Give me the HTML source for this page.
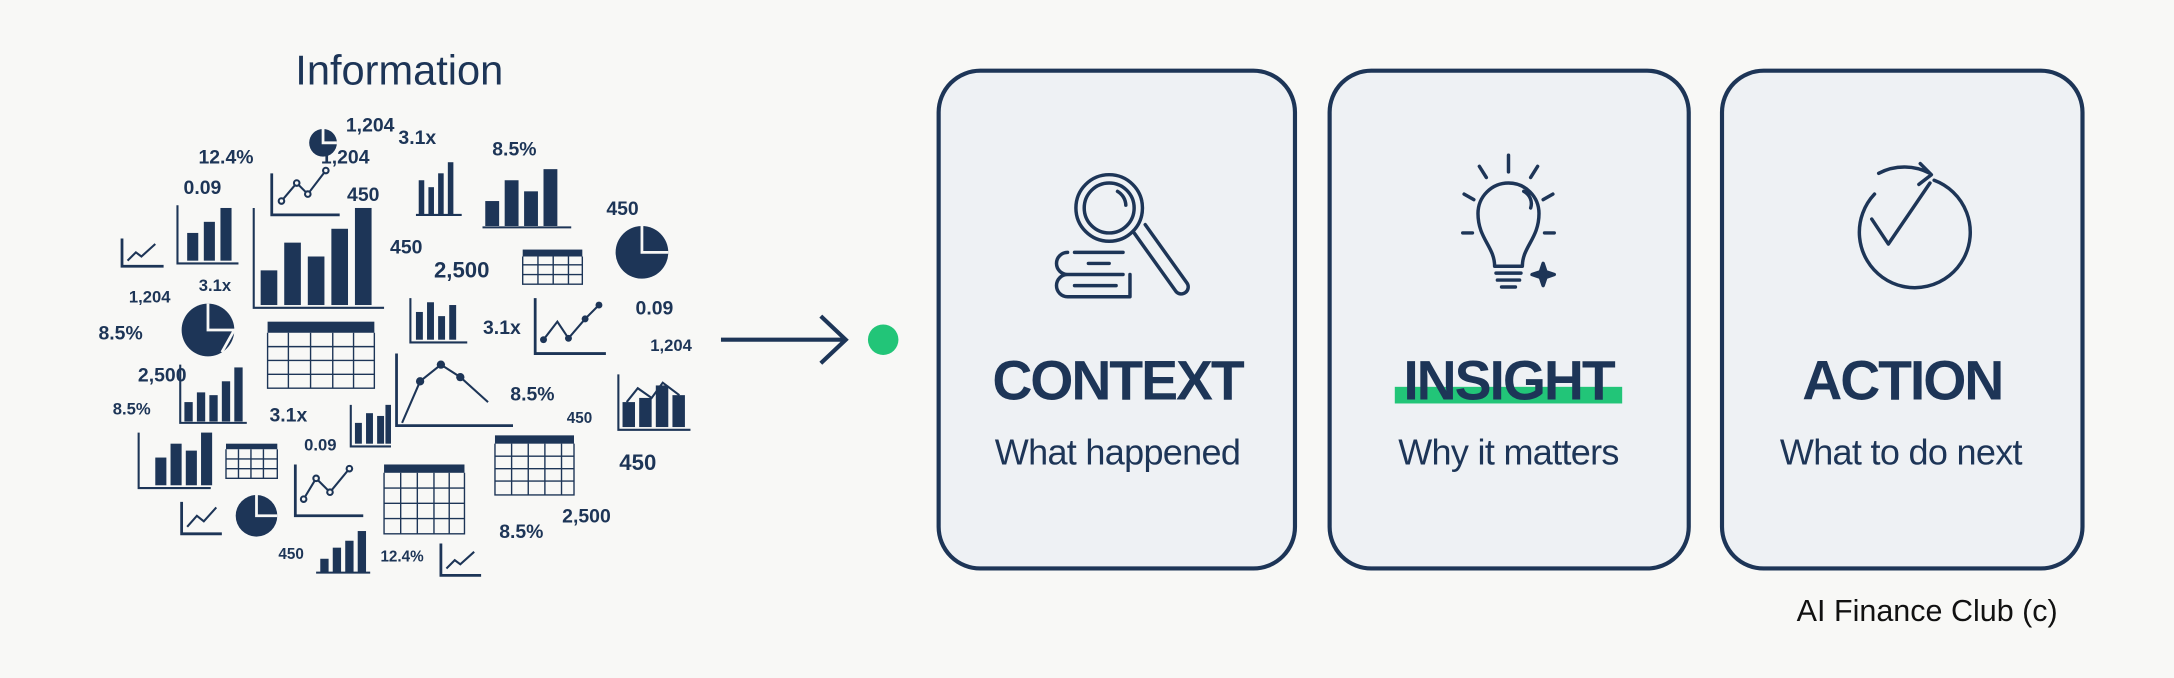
<!DOCTYPE html>
<html><head><meta charset="utf-8"><style>
html,body{margin:0;padding:0;background:#f8f8f6;}
svg{display:block}
</style></head><body>
<svg width="2174" height="678" viewBox="0 0 1568 489" preserveAspectRatio="none" xmlns="http://www.w3.org/2000/svg">
<rect x="0" y="0" width="1568" height="489" fill="#f8f8f6"/>
<g font-family="Liberation Sans, sans-serif" fill="#1d3557">
<text x="288" y="61" font-size="30" text-anchor="middle">Information</text>
<g font-size="14" font-weight="bold" text-anchor="middle">
<text x="163" y="118">12.4%</text><text x="267" y="95">1,204</text><text x="249" y="118">1,204</text>
<text x="301" y="104">3.1x</text><text x="371" y="112">8.5%</text><text x="146" y="140">0.09</text>
<text x="262" y="145">450</text><text x="449" y="155">450</text><text x="293" y="183">450</text>
<text x="333" y="200" font-size="16">2,500</text><text x="108" y="218" font-size="12">1,204</text>
<text x="155" y="210" font-size="12">3.1x</text><text x="87" y="245">8.5%</text><text x="362" y="241">3.1x</text>
<text x="472" y="227">0.09</text><text x="484" y="253" font-size="12">1,204</text><text x="117" y="275">2,500</text>
<text x="95" y="299" font-size="12">8.5%</text><text x="208" y="304">3.1x</text><text x="384" y="289">8.5%</text>
<text x="418" y="305" font-size="11">450</text><text x="231" y="325" font-size="12">0.09</text>
<text x="460" y="339" font-size="16">450</text><text x="376" y="388">8.5%</text><text x="423" y="377">2,500</text>
<text x="210" y="403" font-size="11">450</text><text x="290" y="405" font-size="11">12.4%</text>
</g>
</g>
<g fill="#1d3557" stroke="none">
<circle cx="233" cy="103" r="10"/><circle cx="463" cy="182" r="19"/><circle cx="150" cy="238" r="19"/><circle cx="185" cy="372" r="15"/>
<rect x="302" y="130" width="4" height="25"/><rect x="309" y="135" width="4" height="20"/><rect x="316" y="125" width="4" height="30"/><rect x="323" y="117" width="4" height="38"/>
<rect x="350" y="145" width="10" height="18"/><rect x="364" y="130" width="10" height="33"/><rect x="378" y="138" width="10" height="25"/><rect x="392" y="122" width="10" height="41"/>
<rect x="135" y="168" width="8" height="20"/><rect x="147" y="160" width="8" height="28"/><rect x="159" y="150" width="8" height="38"/>
<rect x="188" y="195" width="12" height="25"/><rect x="205" y="175" width="12" height="45"/><rect x="222" y="185" width="12" height="35"/><rect x="239" y="165" width="12" height="55"/><rect x="256" y="150" width="12" height="70"/>
<rect x="300" y="225" width="5" height="20"/><rect x="308" y="218" width="5" height="27"/><rect x="316" y="228" width="5" height="17"/><rect x="324" y="220" width="5" height="25"/>
<rect x="133" y="290" width="6" height="14"/><rect x="142" y="283" width="6" height="21"/><rect x="151" y="285" width="6" height="19"/><rect x="160" y="275" width="6" height="29"/><rect x="169" y="265" width="6" height="39"/>
<rect x="256" y="305" width="5" height="15"/><rect x="264" y="298" width="5" height="22"/><rect x="272" y="300" width="5" height="20"/><rect x="278" y="292" width="4" height="28"/>
<rect x="449" y="290" width="9" height="18"/><rect x="461" y="287" width="9" height="21"/><rect x="473" y="278" width="9" height="30"/><rect x="485" y="285" width="9" height="23"/>
<rect x="112" y="330" width="8" height="20"/><rect x="123" y="320" width="8" height="30"/><rect x="134" y="325" width="8" height="25"/><rect x="145" y="312" width="8" height="38"/>
<rect x="231" y="403" width="6" height="10"/><rect x="240" y="395" width="6" height="18"/><rect x="249" y="390" width="6" height="23"/><rect x="258" y="383" width="6" height="30"/>
<rect x="377" y="180" width="43" height="5"/><rect x="193" y="232" width="77" height="8"/><rect x="163" y="320" width="37" height="4"/><rect x="277" y="335" width="58" height="6"/><rect x="357" y="314" width="57" height="6"/>
</g>
<!-- pie wedges -->
<g fill="none" stroke="#f8f8f6" stroke-width="2">
<path d="M233 93V103H243M463 163V182H482M150 219V238H169L160 254M185 357V372H200"/>
</g>
<g fill="none" stroke="#1d3557" stroke-width="1.5">
<path d="M128 148V190H172M183 150V222H277M296 215V247H337M130 263V305H178M253 292V322H282M446 270V310H498M100 312V352H152M228 413H267M300 155H333M348 164H412"/>
<path d="M196 125V155H245M386 215V255H437M213 335V372H262M131 362V385H160M318 392V415H347M88 172V192H118M286 255V307H370" stroke-width="2"/>
<path d="M203 145L214 132L222 140L235 123M392 245L402 232L410 244L422 230L432 220M219 360L228 345L238 355L252 338M135 380L142 372L147 376L156 366M322 410L328 404L332 407L342 398M92 188L98 182L102 185L112 176M290 305L303 275L318 263L332 272L352 290M452 290L460 280L470 287L478 276L490 285"/>
<g fill="#f8f8f6"><circle cx="203" cy="145" r="2"/><circle cx="214" cy="132" r="2"/><circle cx="222" cy="140" r="2"/><circle cx="235" cy="123" r="2"/><circle cx="219" cy="360" r="2"/><circle cx="228" cy="345" r="2"/><circle cx="238" cy="355" r="2"/><circle cx="252" cy="338" r="2"/></g>
<g stroke-width="1">
<path d="M377 185V205H420V185M377 191H420M377 198H420M388 185V205M399 185V205M410 185V205"/>
<path d="M193 240V280H270V240M193 250H270M193 260H270M193 270H270M208 240V280M224 240V280M240 240V280M255 240V280"/>
<path d="M163 324V345H200V324M163 331H200M163 338H200M172 324V345M181 324V345M190 324V345"/>
<path d="M277 341V385H335V341M277 352H335M277 363H335M277 374H335M289 341V385M301 341V385M313 341V385M324 341V385"/>
<path d="M357 320V357H414V320M357 329H414M357 338H414M357 347H414M369 320V357M381 320V357M393 320V357M405 320V357"/>
</g>
</g>
<g fill="#1d3557"><circle cx="392" cy="245" r="2.5"/><circle cx="410" cy="244" r="2.5"/><circle cx="422" cy="230" r="2.5"/><circle cx="432" cy="220" r="2.5"/><circle cx="303" cy="275" r="3"/><circle cx="318" cy="263" r="3"/><circle cx="332" cy="272" r="3"/></g>
<path d="M520 245H608M592 228L610 245L592 262" fill="none" stroke="#1d3557" stroke-width="3"/>
<circle cx="637" cy="245" r="11" fill="#22c578"/>
<g fill="#eef1f4" stroke="#1d3557" stroke-width="3">
<rect x="677" y="51" width="257" height="359" rx="30"/>
<rect x="959" y="51" width="259" height="359" rx="30"/>
<rect x="1242" y="51" width="260" height="359" rx="30"/>
</g>
<rect x="1006" y="279" width="164" height="12" fill="#22c578"/>
<g font-family="Liberation Sans, sans-serif" fill="#1d3557" text-anchor="middle">
<g font-size="40" font-weight="bold" letter-spacing="-1.5">
<text x="806" y="288">CONTEXT</text><text x="1088" y="288">INSIGHT</text><text x="1372" y="288">ACTION</text>
</g>
<g font-size="26" letter-spacing="-0.5">
<text x="806" y="335">What happened</text><text x="1088" y="335">Why it matters</text><text x="1371" y="335">What to do next</text>
</g>
<text x="1390" y="448" font-size="22" fill="#111">AI Finance Club (c)</text>
</g>
<g fill="none" stroke="#1d3557" stroke-width="2.5" stroke-linecap="round" stroke-linejoin="round">
<path d="M775 182H810M770 182a8 8 0 0 0 0 16h40M770 198a8 8 0 0 0 0 16h45V198M785 190H800M775 206H805"/>
<circle cx="800" cy="150" r="24"/><circle cx="800" cy="150" r="18"/><path d="M806 138a12 12 0 0 1 6 10"/>
<path d="M818 168L848 210a5 5 0 0 0 8 -6L826 162"/>
<path d="M1078 192c0-14-12-20-12-38a22 22 0 0 1 44 0c0 18-12 24-12 38ZM1079 197H1097M1080 202H1096M1083 207H1093M1099 138a10 10 0 0 1 5 12"/>
<path d="M1088 124V112M1072 128L1067 120M1104 128L1109 120M1063 144L1056 140M1113 144L1120 140M1055 168H1062M1114 168H1121"/>
<path d="M1113 190l2 6 6 2-6 2-2 6-2-6-6-2 6-2z" fill="#1d3557"/>
<path d="M1395 130A40 40 0 1 1 1352 140" />
<path d="M1355 125A40 40 0 0 1 1392 125M1385 118L1393 126L1384 133M1350 158L1362 176L1392 132"/>
</g>
</svg>
</body></html>
